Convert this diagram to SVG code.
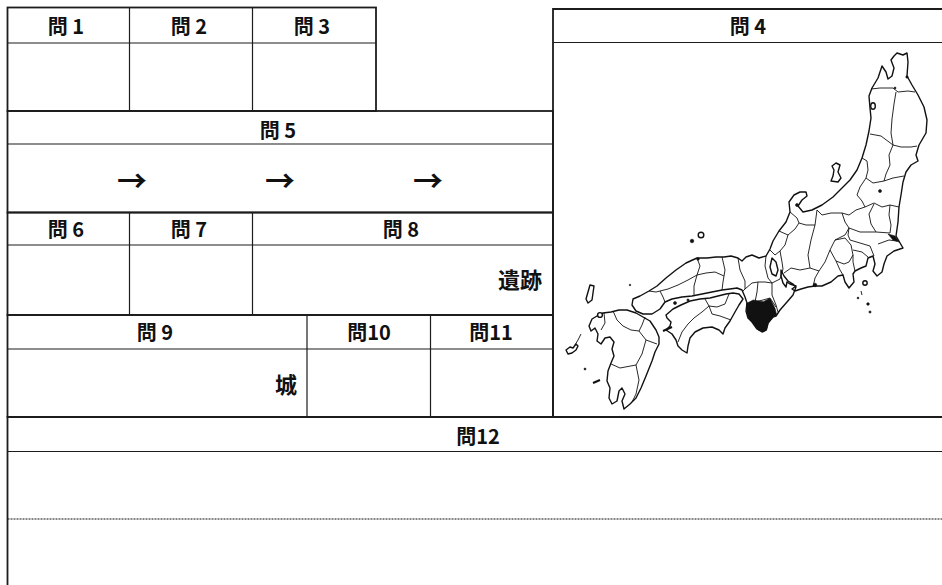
<svg xmlns="http://www.w3.org/2000/svg" width="942" height="585" viewBox="0 0 942 585">
<style>
.ob{fill:none;stroke:#1c1c1c;stroke-width:1.8}
.ln{fill:none;stroke:#1c1c1c;stroke-width:1.2}
.h{font-family:"Noto Sans CJK JP","Noto Sans",sans-serif;font-weight:700;font-size:20px;fill:#111;text-anchor:middle}
.t{font-family:"Noto Sans CJK JP","Noto Sans",sans-serif;font-weight:700;font-size:22px;fill:#111;text-anchor:end}
.ar{font-family:"Noto Sans CJK JP","DejaVu Sans",sans-serif;font-weight:700;font-size:30px;fill:#111;text-anchor:middle}
.land{fill:#fff;stroke:#111;stroke-width:1.4;stroke-linejoin:round}
.pref{fill:none;stroke:#111;stroke-width:0.9;stroke-linejoin:round}
.blk{fill:#111;stroke:#111;stroke-width:0.6}
</style>
<rect width="942" height="585" fill="#fff"/>

<g id="q1-3">
<rect class="ob" x="7.5" y="7.5" width="368.5" height="103.5"/>
<line class="ln" x1="7.5" y1="43" x2="376" y2="43"/>
<line class="ln" x1="129.5" y1="7.5" x2="129.5" y2="111"/>
<line class="ln" x1="252.5" y1="7.5" x2="252.5" y2="111"/>
<text class="h" x="66" y="34">問 1</text>
<text class="h" x="189" y="34">問 2</text>
<text class="h" x="312" y="34">問 3</text>
</g>

<g id="q5">
<rect class="ob" x="7.5" y="111" width="545.5" height="101.5"/>
<line class="ln" x1="7.5" y1="144" x2="553" y2="144"/>
<text class="h" x="278" y="138">問 5</text>
<text class="ar" x="132" y="192">→</text>
<text class="ar" x="280" y="192">→</text>
<text class="ar" x="428" y="192">→</text>
</g>

<g id="q6-8">
<rect class="ob" x="7.5" y="212.5" width="545.5" height="102.5"/>
<line class="ln" x1="7.5" y1="245" x2="553" y2="245"/>
<line class="ln" x1="129.5" y1="212.5" x2="129.5" y2="315"/>
<line class="ln" x1="252.5" y1="212.5" x2="252.5" y2="315"/>
<text class="h" x="66" y="237">問 6</text>
<text class="h" x="189" y="237">問 7</text>
<text class="h" x="401" y="237">問 8</text>
<text class="t" x="542" y="288">遺跡</text>
</g>

<g id="q9-11">
<rect class="ob" x="7.5" y="315" width="545.5" height="102"/>
<line class="ln" x1="7.5" y1="349" x2="553" y2="349"/>
<line class="ln" x1="307" y1="315" x2="307" y2="417"/>
<line class="ln" x1="430.5" y1="315" x2="430.5" y2="417"/>
<text class="h" x="155" y="340">問 9</text>
<text class="h" x="369" y="340">問10</text>
<text class="h" x="491" y="340">問11</text>
<text class="t" x="297" y="393">城</text>
</g>

<g id="q12">
<path class="ob" d="M7.5,585 V417 H942"/>
<line class="ln" x1="7.5" y1="451.5" x2="942" y2="451.5"/>
<line x1="7.5" y1="519" x2="942" y2="519" stroke="#111" stroke-width="1.1" stroke-dasharray="2,1"/>
<text class="h" x="478" y="444">問12</text>
</g>

<g id="q4">
<path class="ob" d="M942,9 H553 V417 H942"/>
<line class="ln" x1="553" y1="42.5" x2="942" y2="42.5"/>
<text class="h" x="748" y="34">問 4</text>
</g>

<g id="map">
<path class="land" d="M882,66 L886,72 L888,79 L892,76 L894,68 L891,60 L894,56 L897,53 L903,55 L907,53 L908,62 L907,76 L912,85 L918,95 L924,107 L927,120 L926,133 L919,145 L916,155 L918,161 L911,165 L906,172 L903,182 L901,195 L899,207 L898,222 L896,236 L903,248 L894,251 L887,256 L884,264 L882,272 L877,276 L873,271 L875,264 L873,256 L868,258 L866,266 L861,268 L855,271 L853,274 L854,282 L849,288 L845,282 L843,275 L838,276 L831,282 L822,286 L815,286 L808,287 L801,289 L795,291 L792,289 L796,286 L790,284 L787,282 L786,287 L783,283 L781,276 L781,270 L784,276 L788,281 L793,284 L796,287 L793,295 L787,302 L780,310 L776,316 L773,317 L768,323 L766,330 L762,332 L757,329 L752,322 L748,318 L746,311 L747,303 L745,297 L742,290 L737,288 L730,289 L722,290 L712,292 L702,294 L692,296 L682,297 L672,299 L665,302 L660,309 L652,314 L643,314 L636,311 L632,305 L633,299 L640,296 L649,291 L657,286 L666,278 L676,270 L686,263 L697,258 L707,258 L716,257 L724,257 L731,256 L738,258 L742,261 L746,257 L752,255 L759,258 L766,256 L770,249 L773,241 L779,231 L786,222 L790,212 L789,202 L794,195 L800,192 L806,192 L807,196 L802,200 L798,206 L803,212 L812,210 L822,205 L833,197 L842,188 L850,180 L857,170 L862,158 L866,145 L869,131 L871,118 L870,108 L869,96 L872,88 L878,78 Z"/>
<path class="land" d="M666,315 L673,309 L681,305 L690,301 L700,299 L710,298 L718,296 L726,294 L733,293 L739,294 L743,299 L739,305 L735,312 L730,321 L725,328 L723,334 L719,330 L712,327 L703,328 L695,332 L690,338 L688,346 L687,353 L682,350 L678,346 L676,340 L672,334 L666,330 L670,326 L671,322 L667,318 Z"/>
<path class="land" d="M636,313 L643,317 L650,321 L656,330 L659,337 L659,344 L655,352 L652,361 L646,376 L641,388 L636,398 L630,404 L624,409 L622,401 L625,394 L622,388 L619,391 L617,401 L612,404 L609,398 L610,388 L607,381 L608,371 L611,363 L614,356 L612,349 L614,342 L610,337 L605,338 L601,344 L597,341 L598,334 L595,328 L591,331 L589,326 L592,319 L597,316 L603,313 L611,312 L619,310 L627,310 Z"/>
<path class="land" d="M836,163 L840,165 L838,172 L841,178 L838,182 L831,181 L833,176 L834,170 L832,166 Z"/>
<path class="land" d="M590,285 L594,286 L593,293 L592,300 L588,303 L586,299 L588,292 Z"/>
<path class="land" d="M566,350 L570,347 L573,348 L576,344 L578,346 L576,350 L572,353 L568,354 Z"/>
<path class="pref" d="M575,345 L578,340 L581,334"/>
<path class="land" d="M772,258 L776,262 L778,270 L776,276 L772,274 L770,267 Z"/>
<ellipse class="land" cx="873" cy="106" rx="2.3" ry="3.3"/>
<circle class="land" cx="701" cy="235" r="2.8"/>
<circle class="land" cx="600" cy="315" r="2.4"/>
<circle class="land" cx="865" cy="283" r="2.2"/>
<path class="pref" d="M871,89 L880,88 L893,88 L898,92 L908,91 L915,92 M896,92 L894,104 L892,119 L891,133 L893,145 M870,134 L881,136 L893,145 M893,145 L901,147 L911,147 L917,146 M893,145 L889,155 L890,165 L886,174 L884,181 M862,158 L867,161 L868,170 L866,178 L873,183 L884,181 M884,181 L893,178 L904,176 M866,178 L860,187 L857,195 L862,201 L865,207 M865,207 L874,203 L882,207 L890,205 L899,207 M890,205 L889,215 L891,225 L890,233 M874,204 L869,214 L871,224 L876,232 M865,207 L856,210 L849,215 L842,213 M849,228 L860,232 L876,232 L890,233 M878,244 L889,240 L897,241 M849,228 L848,235 L850,240 L860,243 L870,246 L874,256 M853,250 L862,252 L868,257 M849,228 L845,235 L835,240 L830,250 L825,262 L819,271 M835,240 L845,238 L851,245 L853,255 L849,262 L844,264 L836,261 L830,250 M836,261 L840,270 L843,275 M853,255 L853,262 L855,271 M817,210 L822,215 L831,213 L842,213 M842,213 L845,222 L849,228 M817,210 L815,225 L811,240 L808,255 L810,268 L819,271 M819,271 L815,278 L813,287 M810,268 L800,270 L791,268 L784,273 M790,212 L797,218 L799,223 L806,225 L815,225 M779,231 L788,235 L795,229 L799,223 M788,235 L785,245 L780,251 L775,255 L770,250 M780,251 L782,262 L783,269 M766,256 L765,266 L768,278 L772,283 L780,279 L783,269 M772,283 L772,295 L776,305 L778,312 M758,282 L765,282 L772,283 M758,282 L757,292 L755,302 M755,302 L763,300 L770,298 L776,307 M758,282 L752,283 L745,289 M738,258 L740,270 L745,281 L745,289 L743,291 M722,257 L725,270 L723,282 L722,290 M697,258 L700,266 L697,275 M697,275 L706,273 L715,272 L724,276 M697,275 L694,286 L694,295 M697,275 L688,280 L678,285 L668,289 L660,291 M649,291 L656,292 L660,291 L663,297 L665,302 M705,299 L709,306 L717,307 L725,304 L729,294 M709,306 L712,314 L720,316 L731,320 M709,306 L702,312 L694,318 L688,324 L682,332 L678,342 M645,317 L642,325 L639,331 M613,311 L617,320 L623,326 M623,326 L631,330 L639,331 M604,313 L605,323 L601,330 M639,331 L646,340 L657,344 M646,340 L642,354 L636,365 M611,364 L620,368 L636,365 M636,365 L639,380 L636,394 L632,402"/>
<path class="blk" d="M746.7,303.3 L753.3,300 L763.3,301.7 L770,298.3 L775,308.3 L776.7,315 L773.3,316.7 L768.3,323.3 L766.7,330 L763.3,331.7 L758.3,330 L753.3,323.3 L748.3,318.3 L746.7,311.7 Z"/>
<path class="blk" d="M888,234 L895,236 L899,242 L893,240 Z"/>
<circle class="blk" cx="880" cy="191" r="1.5"/>
<circle class="blk" cx="815" cy="285" r="1.8"/>
<circle class="blk" cx="797" cy="205" r="1.5"/>
<circle class="blk" cx="907" cy="77" r="1.2"/>
<circle class="blk" cx="895" cy="88" r="1"/>
<circle class="blk" cx="675" cy="303" r="1.5"/>
<circle class="blk" cx="688" cy="300" r="1.1"/>
<circle class="blk" cx="692" cy="241" r="1.8"/>
<circle class="blk" cx="698" cy="259" r="1.3"/>
<circle class="blk" cx="630" cy="285" r="0.8"/>
<circle class="blk" cx="585" cy="369" r="1"/>
<circle class="blk" cx="858" cy="298" r="0.9"/>
<circle class="blk" cx="868" cy="304" r="1.3"/>
<circle class="blk" cx="870" cy="312" r="1.1"/>
<path class="pref" d="M861,291 L862,295"/>
<path fill="none" stroke="#111" stroke-width="2" d="M593,383 L600,380"/>
<path fill="none" stroke="#111" stroke-width="2" d="M663,331 L672,327"/>
</g>
</svg>
